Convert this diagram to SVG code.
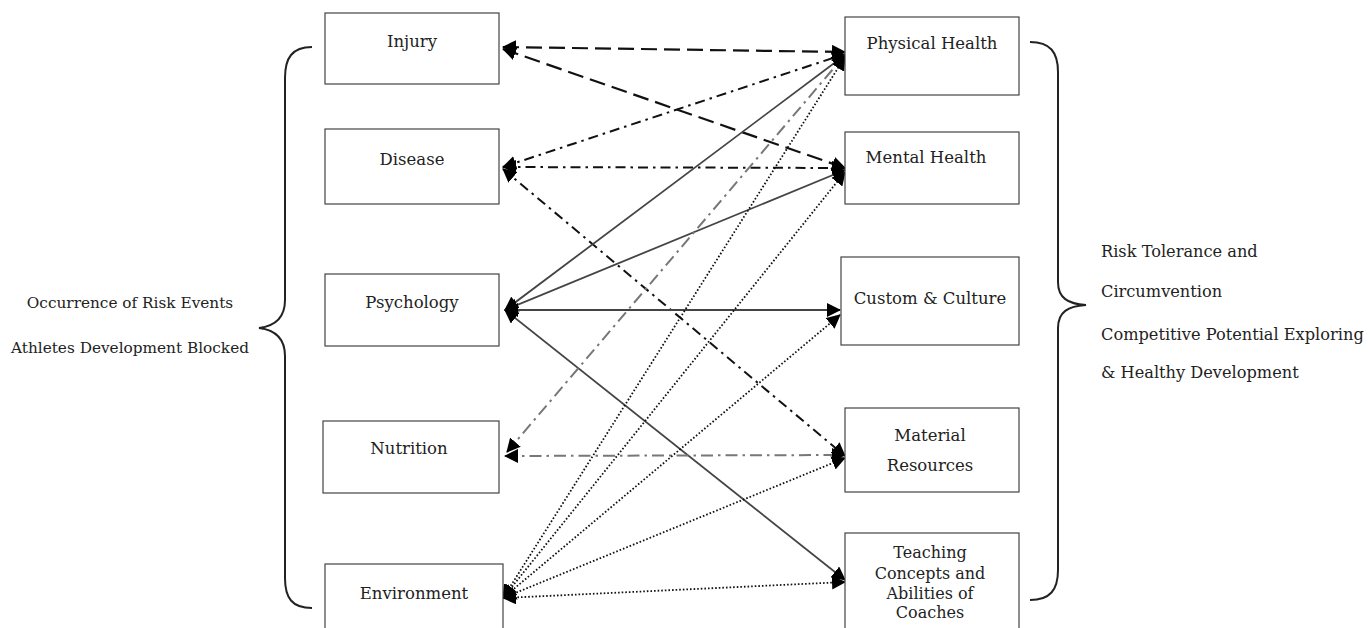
<svg xmlns="http://www.w3.org/2000/svg" width="1369" height="628" viewBox="0 0 1369 628">
<style>
.box{fill:#fff;stroke:#444;stroke-width:1.2}
.lbl{font-family:"DejaVu Serif","Liberation Serif",serif;font-size:16.5px;fill:#222;text-anchor:middle}
.tl{font-family:"DejaVu Serif","Liberation Serif",serif;font-size:16px;fill:#222;text-anchor:middle}
.sl{font-family:"DejaVu Serif","Liberation Serif",serif;font-size:15.3px;fill:#222;text-anchor:middle}
.sr{font-family:"DejaVu Serif","Liberation Serif",serif;font-size:16.2px;fill:#222}
.brace{fill:none;stroke:#222;stroke-width:2}
.c{fill:none;marker-start:url(#ah);marker-end:url(#ah)}
.ld{stroke:#111;stroke-width:2.2;stroke-dasharray:16 7}
.dd{stroke:#111;stroke-width:2;stroke-dasharray:10 5 2.5 5}
.gd{stroke:#777;stroke-width:2;stroke-dasharray:12 5 2.5 5}
.so{stroke:#444;stroke-width:1.8}
.dt{stroke:#111;stroke-width:1.8;stroke-dasharray:1.6 2}
</style>
<defs>
<marker id="ah" viewBox="0 0 14 14" refX="13" refY="7" markerWidth="14" markerHeight="14" markerUnits="userSpaceOnUse" orient="auto-start-reverse">
<path d="M0,0 L14,7 L0,14 Z" fill="#000"/>
</marker>
</defs>
<rect width="1369" height="628" fill="#fff"/>

<path class="brace" d="M312,47 C292,47 285,58 285,78 L285,300 C285,318 275,326 259,328 C275,330 285,338 285,356 L285,578 C285,598 292,608 312,608"/>
<path class="brace" d="M1030,42 C1050,42 1058,52 1058,72 L1058,282 C1058,298 1068,304 1086,305 C1068,306 1058,312 1058,328 L1058,570 C1058,590 1050,600 1030,600"/>

<text class="sl" x="130" y="308">Occurrence of Risk Events</text>
<text class="sl" x="130" y="353">Athletes Development Blocked</text>
<text class="sr" x="1101" y="257">Risk Tolerance and</text>
<text class="sr" x="1101" y="297">Circumvention</text>
<text class="sr" x="1101" y="340">Competitive Potential Exploring</text>
<text class="sr" x="1101" y="378">&amp; Healthy Development</text>

<g id="connectors">
<line class="c ld" x1="503" y1="47" x2="845" y2="52"/>
<line class="c ld" x1="503" y1="49" x2="845" y2="168"/>
<line class="c dd" x1="503" y1="167" x2="845" y2="54"/>
<line class="c dd" x1="503" y1="167" x2="845" y2="168"/>
<line class="c dd" x1="503" y1="169" x2="845" y2="456"/>
<line class="c so" x1="505" y1="310" x2="845" y2="55"/>
<line class="c so" x1="505" y1="310" x2="845" y2="170"/>
<line class="c so" x1="505" y1="310" x2="840" y2="310"/>
<line class="c so" x1="505" y1="310" x2="845" y2="580"/>
<line class="c gd" x1="507" y1="452" x2="845" y2="55"/>
<line class="c gd" x1="505" y1="456" x2="845" y2="455"/>
<line class="c dt" x1="503" y1="598" x2="845" y2="57"/>
<line class="c dt" x1="503" y1="598" x2="845" y2="172"/>
<line class="c dt" x1="503" y1="598" x2="840" y2="315"/>
<line class="c dt" x1="503" y1="598" x2="845" y2="458"/>
<line class="c dt" x1="503" y1="598" x2="845" y2="582"/>
</g>

<g id="injury"><rect class="box" x="325" y="13" width="174" height="71"/><text class="lbl" x="412" y="47">Injury</text></g>
<g id="disease"><rect class="box" x="325" y="129" width="174" height="75"/><text class="lbl" x="412" y="165">Disease</text></g>
<g id="psychology"><rect class="box" x="325" y="274" width="174" height="72"/><text class="lbl" x="412" y="308">Psychology</text></g>
<g id="nutrition"><rect class="box" x="323" y="421" width="176" height="72"/><text class="lbl" x="409" y="454">Nutrition</text></g>
<g id="environment"><rect class="box" x="325" y="564" width="178" height="70"/><text class="lbl" x="414" y="599">Environment</text></g>

<g id="physical-health"><rect class="box" x="845" y="17" width="174" height="78"/><text class="lbl" x="932" y="49">Physical Health</text></g>
<g id="mental-health"><rect class="box" x="845" y="132" width="174" height="72"/><text class="lbl" x="926" y="163">Mental Health</text></g>
<g id="custom-culture"><rect class="box" x="841" y="257" width="178" height="88"/><text class="lbl" x="930" y="304">Custom &amp; Culture</text></g>
<g id="material-resources"><rect class="box" x="845" y="408" width="174" height="84"/><text class="lbl" x="930" y="441">Material</text><text class="lbl" x="930" y="471">Resources</text></g>
<g id="teaching"><rect class="box" x="845" y="533" width="174" height="100"/><text class="tl" x="930" y="558">Teaching</text><text class="tl" x="930" y="579">Concepts and</text><text class="tl" x="930" y="599">Abilities of</text><text class="tl" x="930" y="618">Coaches</text></g>
</svg>
